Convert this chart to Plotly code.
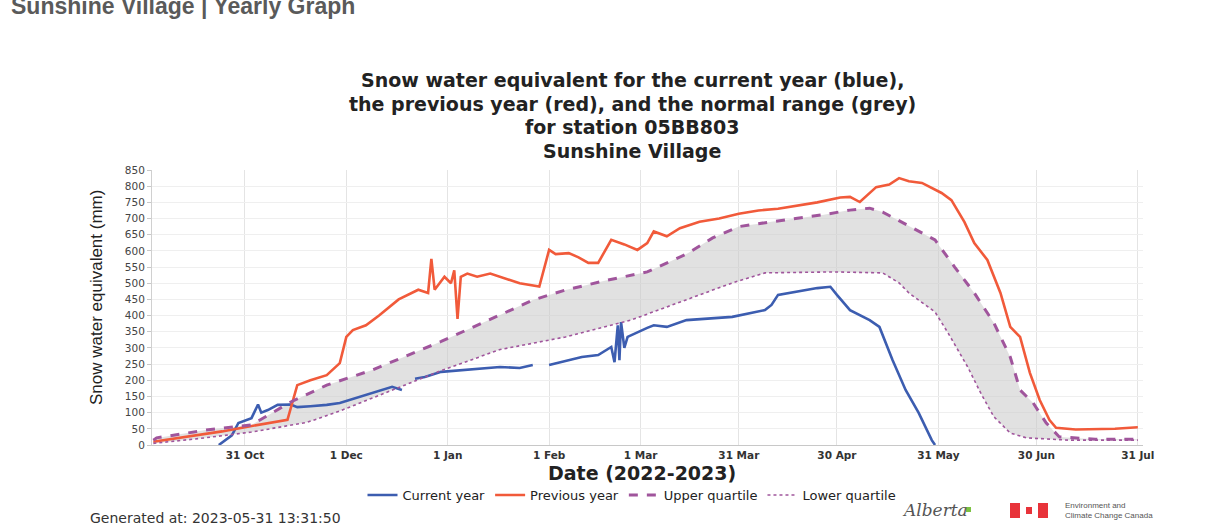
import plotly.graph_objects as go

# ---------------- data ----------------
prev_dates = ["2022-10-03","2022-10-10","2022-10-17","2022-10-24","2022-10-31","2022-11-08","2022-11-13",
              "2022-11-16","2022-11-20","2022-11-25","2022-11-29","2022-12-01","2022-12-03","2022-12-07",
              "2022-12-11","2022-12-17","2022-12-23","2022-12-26","2022-12-27","2022-12-28","2022-12-31",
              "2023-01-02","2023-01-03","2023-01-04","2023-01-05","2023-01-07","2023-01-10","2023-01-14",
              "2023-01-17","2023-01-23","2023-01-29","2023-02-01","2023-02-03","2023-02-07","2023-02-10",
              "2023-02-13","2023-02-16","2023-02-20","2023-02-24","2023-02-28","2023-03-03","2023-03-05",
              "2023-03-09","2023-03-13","2023-03-19","2023-03-25","2023-03-31","2023-04-06","2023-04-12",
              "2023-04-18","2023-04-24","2023-05-01","2023-05-04","2023-05-07","2023-05-12","2023-05-16",
              "2023-05-19","2023-05-22","2023-05-26","2023-06-01","2023-06-04","2023-06-08","2023-06-11",
              "2023-06-15","2023-06-19","2023-06-22","2023-06-25","2023-06-28","2023-07-01","2023-07-04",
              "2023-07-06","2023-07-12","2023-07-18","2023-07-24","2023-07-31"]
prev_vals = [10,20,30,42,55,70,78,
             185,200,216,253,334,355,370,
             400,450,480,470,575,480,520,
             500,540,390,520,530,520,530,
             520,500,490,603,590,593,580,
             563,563,634,620,603,624,660,
             645,670,690,700,715,725,730,
             740,750,765,767,751,797,805,
             825,815,810,779,757,689,624,
             572,470,365,334,223,139,77,
             53,48,50,50,55]

cur_dates = ["2022-10-23","2022-10-27","2022-10-29","2022-11-02","2022-11-04","2022-11-05","2022-11-07",
             "2022-11-10","2022-11-14","2022-11-16","2022-11-20","2022-11-25","2022-11-29","2022-12-04",
             "2022-12-10","2022-12-15","2022-12-18","2022-12-20","2022-12-22","2022-12-25","2022-12-30",
             "2023-01-07","2023-01-17","2023-01-23","2023-01-27","2023-01-29","2023-02-01","2023-02-11",
             "2023-02-16","2023-02-20","2023-02-21","2023-02-22","2023-02-22 12:00","2023-02-23","2023-02-24",
             "2023-02-25","2023-03-03","2023-03-05","2023-03-09","2023-03-15","2023-03-29","2023-04-08",
             "2023-04-10","2023-04-12","2023-04-24","2023-04-28","2023-04-30","2023-05-04","2023-05-10",
             "2023-05-13","2023-05-17","2023-05-21","2023-05-25","2023-05-29","2023-05-30"]
cur_vals = [0,30,68,83,125,100,108,
            124,125,117,120,124,130,145,
            165,180,170,None,205,210,226,
            232,241,238,247,None,247,272,
            278,303,256,370,262,380,300,
            334,362,370,365,386,396,417,
            433,464,485,489,464,417,386,
            365,263,170,99,15,0]

upper_dates = ["2022-10-03","2022-10-04","2022-10-19","2022-11-02","2022-11-14","2022-11-25","2022-12-09",
               "2022-12-30","2023-01-17","2023-01-27","2023-02-06","2023-02-19","2023-03-03","2023-03-15",
               "2023-03-23","2023-03-31","2023-04-10","2023-04-18","2023-04-26","2023-05-04","2023-05-10",
               "2023-05-14","2023-05-24","2023-05-30","2023-06-05","2023-06-11","2023-06-17","2023-06-22",
               "2023-06-25","2023-06-29","2023-07-03","2023-07-07","2023-07-18","2023-07-31"]
upper_vals = [15,22,46,62,133,185,232,
              320,402,448,479,510,535,590,
              640,675,690,700,712,726,732,
              720,665,634,550,470,377,272,
              170,130,68,25,18,18]

lower_dates = ["2022-10-03","2022-10-17","2022-11-02","2022-11-19","2022-11-29","2022-12-14","2022-12-30",
               "2023-01-17","2023-02-06","2023-02-26","2023-03-12","2023-03-29","2023-04-08","2023-04-29",
               "2023-05-14","2023-05-19","2023-05-22","2023-05-30","2023-06-03","2023-06-09","2023-06-13",
               "2023-06-17","2023-06-22","2023-06-27","2023-07-10","2023-07-31"]
lower_vals = [5,20,40,70,105,165,230,
              295,334,386,439,501,532,535,
              532,501,470,411,346,241,160,
              87,37,22,15,15]

tick_dates = ["2022-10-31","2022-12-01","2023-01-01","2023-02-01","2023-03-01",
              "2023-03-31","2023-04-30","2023-05-31","2023-06-30","2023-07-31"]
tick_labels = ["31 Oct","1 Dec","1 Jan","1 Feb","1 Mar","31 Mar","30 Apr","31 May","30 Jun","31 Jul"]
y_ticks = list(range(0, 851, 50))

# ---------------- styles ----------------
BLUE = "#3c5db0"
RED = "#f15a3a"
PURPLE = "#a0559c"
FONT = "Liberation Sans, Arial, sans-serif"
WIDE = "DejaVu Sans, Verdana, sans-serif"

W, H = 1211, 531
L, R, T, B = 152, 68, 170, 86
PW, PH = W - L - R, H - T - B

def px(x):
    return (x - L) / PW

def py(y):
    return (H - B - y) / PH

fig = go.Figure()

# normal range band (grey)
fig.add_trace(go.Scatter(
    x=upper_dates + lower_dates[::-1], y=upper_vals + lower_vals[::-1],
    fill="toself", fillcolor="rgba(200,200,200,0.55)", line=dict(width=0),
    mode="lines", showlegend=False, hoverinfo="skip"))

fig.add_trace(go.Scatter(x=cur_dates, y=cur_vals, mode="lines", name="Current year",
                         line=dict(color=BLUE, width=2.6), connectgaps=False))
fig.add_trace(go.Scatter(x=prev_dates, y=prev_vals, mode="lines", name="Previous year",
                         line=dict(color=RED, width=2.6)))
fig.add_trace(go.Scatter(x=upper_dates, y=upper_vals, mode="lines", name="Upper quartile",
                         line=dict(color=PURPLE, width=3, dash="dash")))
fig.add_trace(go.Scatter(x=lower_dates, y=lower_vals, mode="lines", name="Lower quartile",
                         line=dict(color=PURPLE, width=1.6, dash="dot")))

fig.update_layout(
    width=W, height=H,
    margin=dict(l=L, r=R, t=T, b=B),
    paper_bgcolor="white", plot_bgcolor="white",
    font=dict(family=FONT, color="#333"),
    showlegend=True,
    legend=dict(orientation="h", x=px(632), xanchor="center", y=py(495), yanchor="middle",
                font=dict(size=13, color="#222", family=WIDE), itemwidth=30, tracegroupgap=0,
                bgcolor="rgba(0,0,0,0)"),
    xaxis=dict(type="date", range=["2022-10-02 14:00", "2023-08-01 14:00"],
               tickmode="array", tickvals=tick_dates, ticktext=tick_labels,
               tickfont=dict(size=10.5, color="#333", family=WIDE, weight="bold"),
               showgrid=True, gridcolor="#e4e4e4", gridwidth=1,
               showline=True, linecolor="#c8c8c8", linewidth=1,
               ticks="", zeroline=False, fixedrange=True),
    yaxis=dict(range=[0, 850], tickmode="array", tickvals=y_ticks,
               tickfont=dict(size=10.5, color="#444", family=WIDE),
               showgrid=True, gridcolor="#efefef", gridwidth=1,
               showline=True, linecolor="#d0d0d0", linewidth=1,
               ticks="outside", ticklen=4, tickcolor="#c8c8c8",
               zeroline=False, fixedrange=True),
)

ann = []
# cut-off page header
ann.append(dict(text="<b>Sunshine Village | Yearly Graph</b>", x=px(9), y=py(6), xanchor="left",
                yanchor="middle", font=dict(size=23, color="#5a5a5a", family=FONT)))
# title lines
title_lines = ["Snow water equivalent for the current year (blue),",
               "the previous year (red), and the normal range (grey)",
               "for station 05BB803",
               "Sunshine Village"]
for i, t in enumerate(title_lines):
    ann.append(dict(text="<b>" + t + "</b>", x=px(632), y=py(80 + i * 23.5), xanchor="center",
                    yanchor="middle", font=dict(size=19, color="#222", family=WIDE)))
# axis titles
ann.append(dict(text="Snow water equivalent (mm)", x=px(96), y=py(298), textangle=-90,
                xanchor="center", yanchor="middle", font=dict(size=17, color="#222", family=FONT)))
ann.append(dict(text="<b>Date (2022-2023)</b>", x=px(642), y=py(473), xanchor="center",
                yanchor="middle", font=dict(size=19, color="#222", family=WIDE)))
# footer
ann.append(dict(text="Generated at: 2023-05-31 13:31:50", x=px(88), y=py(518), xanchor="left",
                yanchor="middle", font=dict(size=14, color="#333", family=WIDE)))
ann.append(dict(text="Alberta", x=px(900), y=py(510), xanchor="left", yanchor="middle",
                font=dict(size=17, color="#555", family="DejaVu Serif", style="italic")))
ann.append(dict(text="Environment and<br>Climate Change Canada", x=px(1063), y=py(510),
                xanchor="left", yanchor="middle", align="left",
                font=dict(size=8, color="#555", family=FONT)))
for a in ann:
    a.update(xref="paper", yref="paper", showarrow=False)
fig.update_layout(annotations=ann)

# logo shapes
shapes = [
    dict(type="rect", x0=px(966), x1=px(971), y0=py(512), y1=py(507), fillcolor="#7cc242", line_width=0),
    dict(type="rect", x0=px(1010), x1=px(1020), y0=py(518), y1=py(503), fillcolor="#e8333a", line_width=0),
    dict(type="rect", x0=px(1038), x1=px(1048), y0=py(518), y1=py(503), fillcolor="#e8333a", line_width=0),
    dict(type="rect", x0=px(1026), x1=px(1032), y0=py(514), y1=py(507), fillcolor="#e8333a", line_width=0),
]
for s in shapes:
    s.update(xref="paper", yref="paper")
fig.update_layout(shapes=shapes)

fig.write_html("out.html", config={"displayModeBar": False},
               post_script="document.body.style.margin='0';")
